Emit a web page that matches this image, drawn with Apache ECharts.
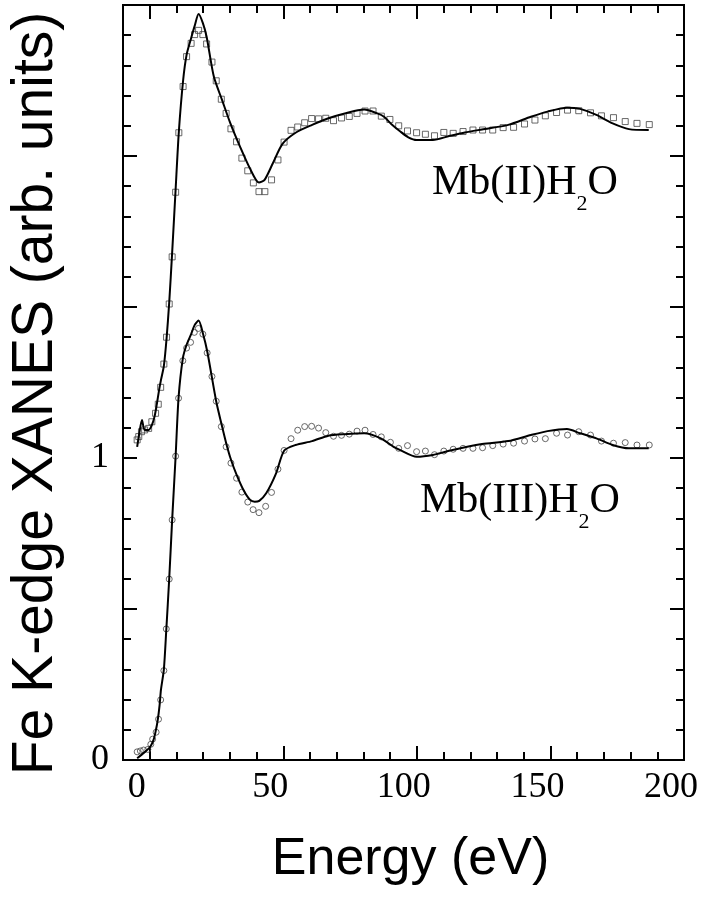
<!DOCTYPE html>
<html>
<head>
<meta charset="utf-8">
<script src="https://cdn.jsdelivr.net/npm/echarts@6/dist/echarts.min.js"></script>
<style>
  html, body { margin: 0; padding: 0; background: #fff; }
  #chart { width: 707px; height: 899px; }
</style>
</head>
<body>
<div id="chart"></div>
<script>
// Mb(II)H2O - experiment (squares)
const mb2ExpE = [-4.7, -4.1, -3.1, -1.9, -0.4, 0.8, 2.2, 3.2, 4.1, 5.3, 6.3, 7.3, 8.4, 9.7, 10.9, 12.5, 13.8, 15.5, 16.8, 18.3,
  19.9, 21.3, 23.3, 24.9, 26.8, 28.6, 30.4, 32.5, 34.5, 36.7, 38.8, 40.9, 43.1, 45.6, 48.0, 50.3, 52.9, 55.4, 58.0, 60.6,
  63.2, 65.9, 68.8, 71.8, 74.7, 77.6, 80.6, 83.6, 86.7, 89.9, 93.2, 96.5, 99.9, 103.2, 106.6, 110.1, 113.6, 117.3, 121.0, 124.6,
  128.4, 132.3, 136.2, 140.3, 144.2, 148.1, 152.3, 156.4, 160.6, 165.0, 169.1, 173.6, 178.0, 182.4, 187.0];
const mb2ExpY = [1.060, 1.071, 1.087, 1.093, 1.098, 1.120, 1.148, 1.178, 1.234, 1.311, 1.400, 1.510, 1.666, 1.880, 2.077, 2.230, 2.329, 2.373, 2.402, 2.416,
  2.402, 2.371, 2.311, 2.249, 2.188, 2.141, 2.090, 2.047, 1.993, 1.951, 1.911, 1.882, 1.882, 1.921, 1.987, 2.046, 2.085, 2.096, 2.110, 2.124,
  2.123, 2.125, 2.117, 2.126, 2.131, 2.141, 2.149, 2.149, 2.132, 2.121, 2.100, 2.083, 2.077, 2.072, 2.067, 2.078, 2.075, 2.081, 2.086, 2.086,
  2.086, 2.094, 2.095, 2.106, 2.119, 2.133, 2.144, 2.152, 2.150, 2.143, 2.133, 2.127, 2.114, 2.108, 2.104];

// Mb(II)H2O - theory (line)
const mb2FitE = [-4.7, -3.9, -2.9, -1.9, -0.4, 0.8, 1.8, 2.6, 3.5, 4.2, 5.3, 6.3, 7.3, 8.4, 9.7, 10.9, 12.5, 13.8, 15.5, 16.8,
  18.3, 19.9, 21.3, 24.0, 27.1, 30.2, 33.8, 37.5, 40.9, 43.0, 46.1, 49.7, 54.6, 60.8, 66.9, 73.0, 80.3, 85.2, 87.7, 90.5,
  93.8, 96.8, 99.9, 106.0, 112.1, 118.0, 124.4, 134.2, 142.7, 148.9, 156.2, 161.1, 167.2, 173.3, 179.4, 186.8];
const mb2FitY = [1.037, 1.082, 1.126, 1.093, 1.093, 1.109, 1.137, 1.175, 1.225, 1.258, 1.305, 1.395, 1.515, 1.680, 1.890, 2.080, 2.250, 2.335, 2.390, 2.430,
  2.470, 2.440, 2.395, 2.263, 2.185, 2.108, 2.031, 1.959, 1.912, 1.921, 1.976, 2.040, 2.077, 2.103, 2.125, 2.141, 2.154, 2.141, 2.130, 2.105,
  2.081, 2.062, 2.053, 2.053, 2.066, 2.078, 2.088, 2.103, 2.130, 2.147, 2.160, 2.156, 2.136, 2.108, 2.089, 2.086];

// Mb(III)H2O - experiment (circles)
const mb3ExpE = [-4.7, -3.5, -2.3, -0.7, 0.4, 1.1, 2.4, 3.3, 4.1, 5.3, 6.2, 7.3, 8.4, 9.7, 10.8, 12.4, 13.8, 15.3, 16.7, 18.2,
  19.9, 21.5, 23.3, 24.9, 26.8, 28.6, 30.4, 32.5, 34.5, 36.7, 38.7, 40.9, 43.4, 45.6, 48.0, 50.3, 52.9, 55.4, 58.0, 60.6,
  63.2, 65.9, 68.8, 71.8, 74.7, 77.6, 80.6, 83.6, 86.7, 90.1, 93.2, 96.5, 99.9, 103.2, 106.6, 110.1, 113.6, 117.3, 121.0, 124.6,
  128.4, 132.3, 136.2, 140.3, 144.2, 148.1, 152.3, 156.4, 160.6, 165.0, 169.1, 173.6, 178.0, 182.4, 187.0];
const mb3ExpY = [0.027, 0.030, 0.033, 0.035, 0.052, 0.069, 0.092, 0.135, 0.199, 0.296, 0.434, 0.599, 0.795, 1.006, 1.198, 1.322, 1.364, 1.383, 1.416, 1.429,
  1.410, 1.348, 1.270, 1.188, 1.104, 1.037, 0.983, 0.933, 0.887, 0.854, 0.829, 0.819, 0.840, 0.886, 0.963, 1.025, 1.064, 1.092, 1.104, 1.105,
  1.099, 1.084, 1.072, 1.075, 1.079, 1.089, 1.092, 1.078, 1.070, 1.052, 1.032, 1.041, 1.021, 1.023, 1.011, 1.023, 1.029, 1.032, 1.032, 1.034,
  1.041, 1.046, 1.049, 1.056, 1.063, 1.064, 1.082, 1.076, 1.087, 1.076, 1.056, 1.049, 1.051, 1.043, 1.043];

// Mb(III)H2O - theory (line)
const mb3FitE = [-4.7, -3.1, -1.0, 0.2, 1.4, 2.2, 3.0, 3.7, 4.2, 5.3, 6.2, 7.3, 8.4, 9.7, 10.8, 12.4, 13.8, 15.5, 16.8, 18.3,
  19.9, 21.6, 24.9, 26.8, 28.6, 30.4, 32.5, 35.1, 37.5, 39.3, 41.0, 43.6, 47.3, 50.3, 54.6, 60.8, 66.9, 73.0, 80.3, 86.5,
  91.3, 93.8, 99.9, 106.0, 112.1, 124.4, 134.2, 142.7, 148.9, 156.2, 161.1, 167.2, 173.3, 179.4, 186.8];
const mb3FitY = [0.006, 0.017, 0.033, 0.044, 0.066, 0.094, 0.132, 0.182, 0.232, 0.300, 0.430, 0.600, 0.795, 1.006, 1.200, 1.330, 1.375, 1.410, 1.440, 1.455,
  1.413, 1.350, 1.187, 1.115, 1.050, 0.995, 0.945, 0.894, 0.862, 0.855, 0.858, 0.883, 0.949, 1.024, 1.043, 1.056, 1.074, 1.079, 1.082, 1.065,
  1.037, 1.026, 1.004, 1.010, 1.024, 1.046, 1.056, 1.076, 1.089, 1.096, 1.082, 1.065, 1.043, 1.032, 1.032];

// ticks and labels
const xMajor = [0, 50, 100, 150, 200];
const xMinor = [10, 20, 30, 40, 60, 70, 80, 90, 110, 120, 130, 140, 160, 170, 180, 190];
const yMajor = [0, 0.5, 1, 1.5, 2, 2.5];
const yMinor = [0.1, 0.2, 0.3, 0.4, 0.6, 0.7, 0.8, 0.9, 1.1, 1.2, 1.3, 1.4, 1.6, 1.7, 1.8, 1.9, 2.1, 2.2, 2.3, 2.4];
const yLabels = [0, 1];

const zip = (a, b) => a.map((v, i) => [v, b[i]]);

const serif = 'Liberation Serif';
const sans = 'Liberation Sans';

function xAx(pos, ticks, len, extra) {
  return Object.assign({
    type: 'value', position: pos, min: -10, max: 200,
    axisLine: { show: true, onZero: false, lineStyle: { color: '#000', width: 2 } },
    axisTick: { show: true, inside: true, length: len, customValues: ticks, lineStyle: { color: '#000', width: 2 } },
    axisLabel: { show: false },
    splitLine: { show: false }
  }, extra || {});
}
function yAx(pos, ticks, len, extra) {
  return Object.assign({
    type: 'value', position: pos, min: 0, max: 2.5,
    axisLine: { show: true, onZero: false, lineStyle: { color: '#000', width: 2 } },
    axisTick: { show: true, inside: true, length: len, customValues: ticks, lineStyle: { color: '#000', width: 2 } },
    axisLabel: { show: false },
    splitLine: { show: false }
  }, extra || {});
}

const richLabel = {
  a: { fontFamily: serif, fontSize: 42, lineHeight: 42, verticalAlign: 'top', fill: '#000' },
  b: { fontFamily: serif, fontSize: 22, lineHeight: 22, verticalAlign: 'top', padding: [31, 0, 0, 0], fill: '#000' }
};

const chart = echarts.init(document.getElementById('chart'));
chart.setOption({
  backgroundColor: '#fff',
  animation: false,
  grid: { left: 114, right: 23, top: 5, bottom: 139 },
  xAxis: [
    xAx('bottom', xMajor, 14, {
      name: 'Energy (eV)', nameLocation: 'middle', nameGap: 74,
      nameTextStyle: { fontFamily: sans, fontSize: 52, color: '#000', padding: [0, 0, 0, 14] },
      axisLabel: { show: true, customValues: xMajor, margin: 10, fontFamily: serif, fontSize: 36, color: '#000', padding: [0, 26, 0, 0] }
    }),
    xAx('bottom', xMinor, 8),
    xAx('top', xMajor, 14),
    xAx('top', xMinor, 8)
  ],
  yAxis: [
    yAx('left', yMajor, 14, {
      name: 'Fe K-edge XANES (arb. units)', nameLocation: 'middle', nameRotate: 90, nameGap: 58,
      nameTextStyle: { fontFamily: sans, fontSize: 57, color: '#000', padding: [0, 22, 0, 0] },
      axisLabel: { show: true, customValues: yLabels, margin: 14, fontFamily: serif, fontSize: 36, color: '#000', padding: [16, 0, 0, 0] }
    }),
    yAx('left', yMinor, 8),
    yAx('right', yMajor, 14),
    yAx('right', yMinor, 8)
  ],
  series: [
    {
      type: 'line', name: 'Mb(II)H2O theory', data: zip(mb2FitE, mb2FitY),
      showSymbol: false, smooth: 0.25, lineStyle: { color: '#000', width: 2 }
    },
    {
      type: 'scatter', name: 'Mb(II)H2O exp', data: zip(mb2ExpE, mb2ExpY),
      symbol: 'rect', symbolSize: 6,
      itemStyle: { color: 'rgba(0,0,0,0)', borderColor: '#444', borderWidth: 1 }
    },
    {
      type: 'line', name: 'Mb(III)H2O theory', data: zip(mb3FitE, mb3FitY),
      showSymbol: false, smooth: 0.25, lineStyle: { color: '#000', width: 2 }
    },
    {
      type: 'scatter', name: 'Mb(III)H2O exp', data: zip(mb3ExpE, mb3ExpY),
      symbol: 'circle', symbolSize: 6,
      itemStyle: { color: 'rgba(0,0,0,0)', borderColor: '#444', borderWidth: 1 }
    }
  ],
  graphic: [
    { type: 'text', left: 432, top: 162, style: { text: '{a|Mb(II)H}{b|2}{a|O}', rich: richLabel } },
    { type: 'text', left: 420, top: 480, style: { text: '{a|Mb(III)H}{b|2}{a|O}', rich: richLabel } }
  ]
});
</script>
</body>
</html>
